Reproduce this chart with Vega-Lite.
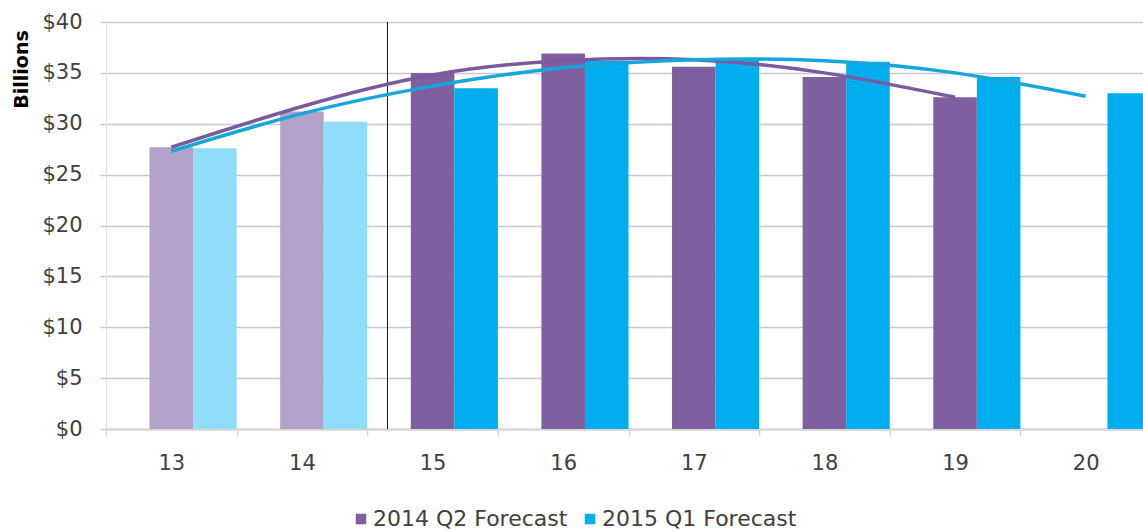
{
  "$schema": "https://vega.github.io/schema/vega-lite/v6.json",
  "width": 1037,
  "height": 407,
  "autosize": "none",
  "padding": {"left": 106, "top": 22, "right": 0, "bottom": 102},
  "background": "white",
  "config": {
    "view": {"stroke": null},
    "font": "DejaVu Sans"
  },
  "datasets": {
    "bars": [
      {"cat": "13", "series": "2014 Q2", "group": "2014 Q2 Actual", "value": 27.7},
      {"cat": "13", "series": "2015 Q1", "group": "2015 Q1 Actual", "value": 27.6},
      {"cat": "14", "series": "2014 Q2", "group": "2014 Q2 Actual", "value": 31.2},
      {"cat": "14", "series": "2015 Q1", "group": "2015 Q1 Actual", "value": 30.2},
      {"cat": "15", "series": "2014 Q2", "group": "2014 Q2 Forecast", "value": 35.0},
      {"cat": "15", "series": "2015 Q1", "group": "2015 Q1 Forecast", "value": 33.5},
      {"cat": "16", "series": "2014 Q2", "group": "2014 Q2 Forecast", "value": 36.9},
      {"cat": "16", "series": "2015 Q1", "group": "2015 Q1 Forecast", "value": 36.2},
      {"cat": "17", "series": "2014 Q2", "group": "2014 Q2 Forecast", "value": 35.6},
      {"cat": "17", "series": "2015 Q1", "group": "2015 Q1 Forecast", "value": 36.3},
      {"cat": "18", "series": "2014 Q2", "group": "2014 Q2 Forecast", "value": 34.6},
      {"cat": "18", "series": "2015 Q1", "group": "2015 Q1 Forecast", "value": 36.1},
      {"cat": "19", "series": "2014 Q2", "group": "2014 Q2 Forecast", "value": 32.6},
      {"cat": "19", "series": "2015 Q1", "group": "2015 Q1 Forecast", "value": 34.6},
      {"cat": "20", "series": "2015 Q1", "group": "2015 Q1 Forecast", "value": 33.0}
    ],
    "trend": [
      {"cat": "13", "series": "2014 Q2", "value": 27.7},
      {"cat": "14", "series": "2014 Q2", "value": 31.7},
      {"cat": "15", "series": "2014 Q2", "value": 34.8},
      {"cat": "16", "series": "2014 Q2", "value": 36.2},
      {"cat": "17", "series": "2014 Q2", "value": 36.3},
      {"cat": "18", "series": "2014 Q2", "value": 35.0},
      {"cat": "19", "series": "2014 Q2", "value": 32.6},
      {"cat": "13", "series": "2015 Q1", "value": 27.3},
      {"cat": "14", "series": "2015 Q1", "value": 31.0},
      {"cat": "15", "series": "2015 Q1", "value": 33.7},
      {"cat": "16", "series": "2015 Q1", "value": 35.5},
      {"cat": "17", "series": "2015 Q1", "value": 36.3},
      {"cat": "18", "series": "2015 Q1", "value": 36.2},
      {"cat": "19", "series": "2015 Q1", "value": 35.0},
      {"cat": "20", "series": "2015 Q1", "value": 32.7}
    ],
    "divider": [
      {"cat": "15"}
    ]
  },
  "layer": [
    {
      "data": {"name": "bars"},
      "mark": {"type": "bar", "strokeWidth": 0},
      "encoding": {
        "x": {
          "field": "cat", "type": "nominal",
          "scale": {"domain": ["13","14","15","16","17","18","19","20"], "range": [0, 1045], "paddingInner": 0, "paddingOuter": 0},
          "axis": {
            "title": null,
            "labelAngle": 0,
            "labelFontSize": 21,
            "labelColor": "#404040",
            "labelPadding": 16,
            "domainColor": "#d9d9d9",
            "domainWidth": 2.5,
            "ticks": true,
            "tickBand": "extent",
            "tickColor": "#d9d9d9",
            "tickWidth": 1.5,
            "tickSize": 7,
            "grid": false
          }
        },
        "xOffset": {
          "field": "series", "type": "nominal",
          "scale": {"domain": ["_gap", "2014 Q2", "2015 Q1"], "paddingInner": 0, "paddingOuter": 0}
        },
        "y": {
          "field": "value", "type": "quantitative",
          "scale": {"domain": [0, 40], "nice": false},
          "axis": {
            "title": "Billions",
            "titleFontSize": 19,
            "titleFontWeight": "bold",
            "titleColor": "#000000",
            "titleAngle": -90,
            "titleX": -85,
            "titleY": 47,
            "titleAlign": "center",
            "titleBaseline": "middle",
            "values": [0, 5, 10, 15, 20, 25, 30, 35, 40],
            "format": "$.0f",
            "labelFontSize": 21,
            "labelColor": "#404040",
            "labelPadding": 18,
            "grid": true,
            "gridColor": "#c5c8dc",
            "gridWidth": 1.5,
            "domain": true,
            "domainColor": "#e0e0e0",
            "domainWidth": 1,
            "ticks": true,
            "tickColor": "#c5c8dc",
            "tickWidth": 1.5,
            "tickSize": 6
          }
        },
        "color": {
          "field": "group", "type": "nominal",
          "scale": {
            "domain": ["2014 Q2 Forecast", "2015 Q1 Forecast", "2014 Q2 Actual", "2015 Q1 Actual"],
            "range": ["#7f5f9f", "#00aeef", "#b2a1c8", "#8fdcfb"]
          },
          "legend": {
            "title": null,
            "values": ["2014 Q2 Forecast", "2015 Q1 Forecast"],
            "orient": "none",
            "direction": "horizontal",
            "legendX": 244,
            "legendY": 486,
            "symbolType": "square",
            "symbolSize": 110,
            "symbolStrokeWidth": 0,
            "labelFontSize": 22,
            "labelColor": "#404040",
            "labelOffset": 1,
            "columnPadding": 11,
            "labelLimit": 400
          }
        }
      }
    },
    {
      "data": {"name": "divider"},
      "mark": {"type": "rule", "color": "#1a1a1a", "strokeWidth": 1},
      "encoding": {
        "x": {"field": "cat", "type": "nominal", "bandPosition": 0.155}
      }
    },
    {
      "data": {"name": "trend"},
      "transform": [{"filter": "datum.series === '2014 Q2'"}],
      "mark": {"type": "line", "color": "#7a5a9f", "strokeWidth": 3.5, "interpolate": "natural"},
      "encoding": {
        "x": {"field": "cat", "type": "nominal"},
        "y": {"field": "value", "type": "quantitative"}
      }
    },
    {
      "data": {"name": "trend"},
      "transform": [{"filter": "datum.series === '2015 Q1'"}],
      "mark": {"type": "line", "color": "#14a7dc", "strokeWidth": 3.5, "interpolate": "natural"},
      "encoding": {
        "x": {"field": "cat", "type": "nominal"},
        "y": {"field": "value", "type": "quantitative"}
      }
    }
  ]
}
